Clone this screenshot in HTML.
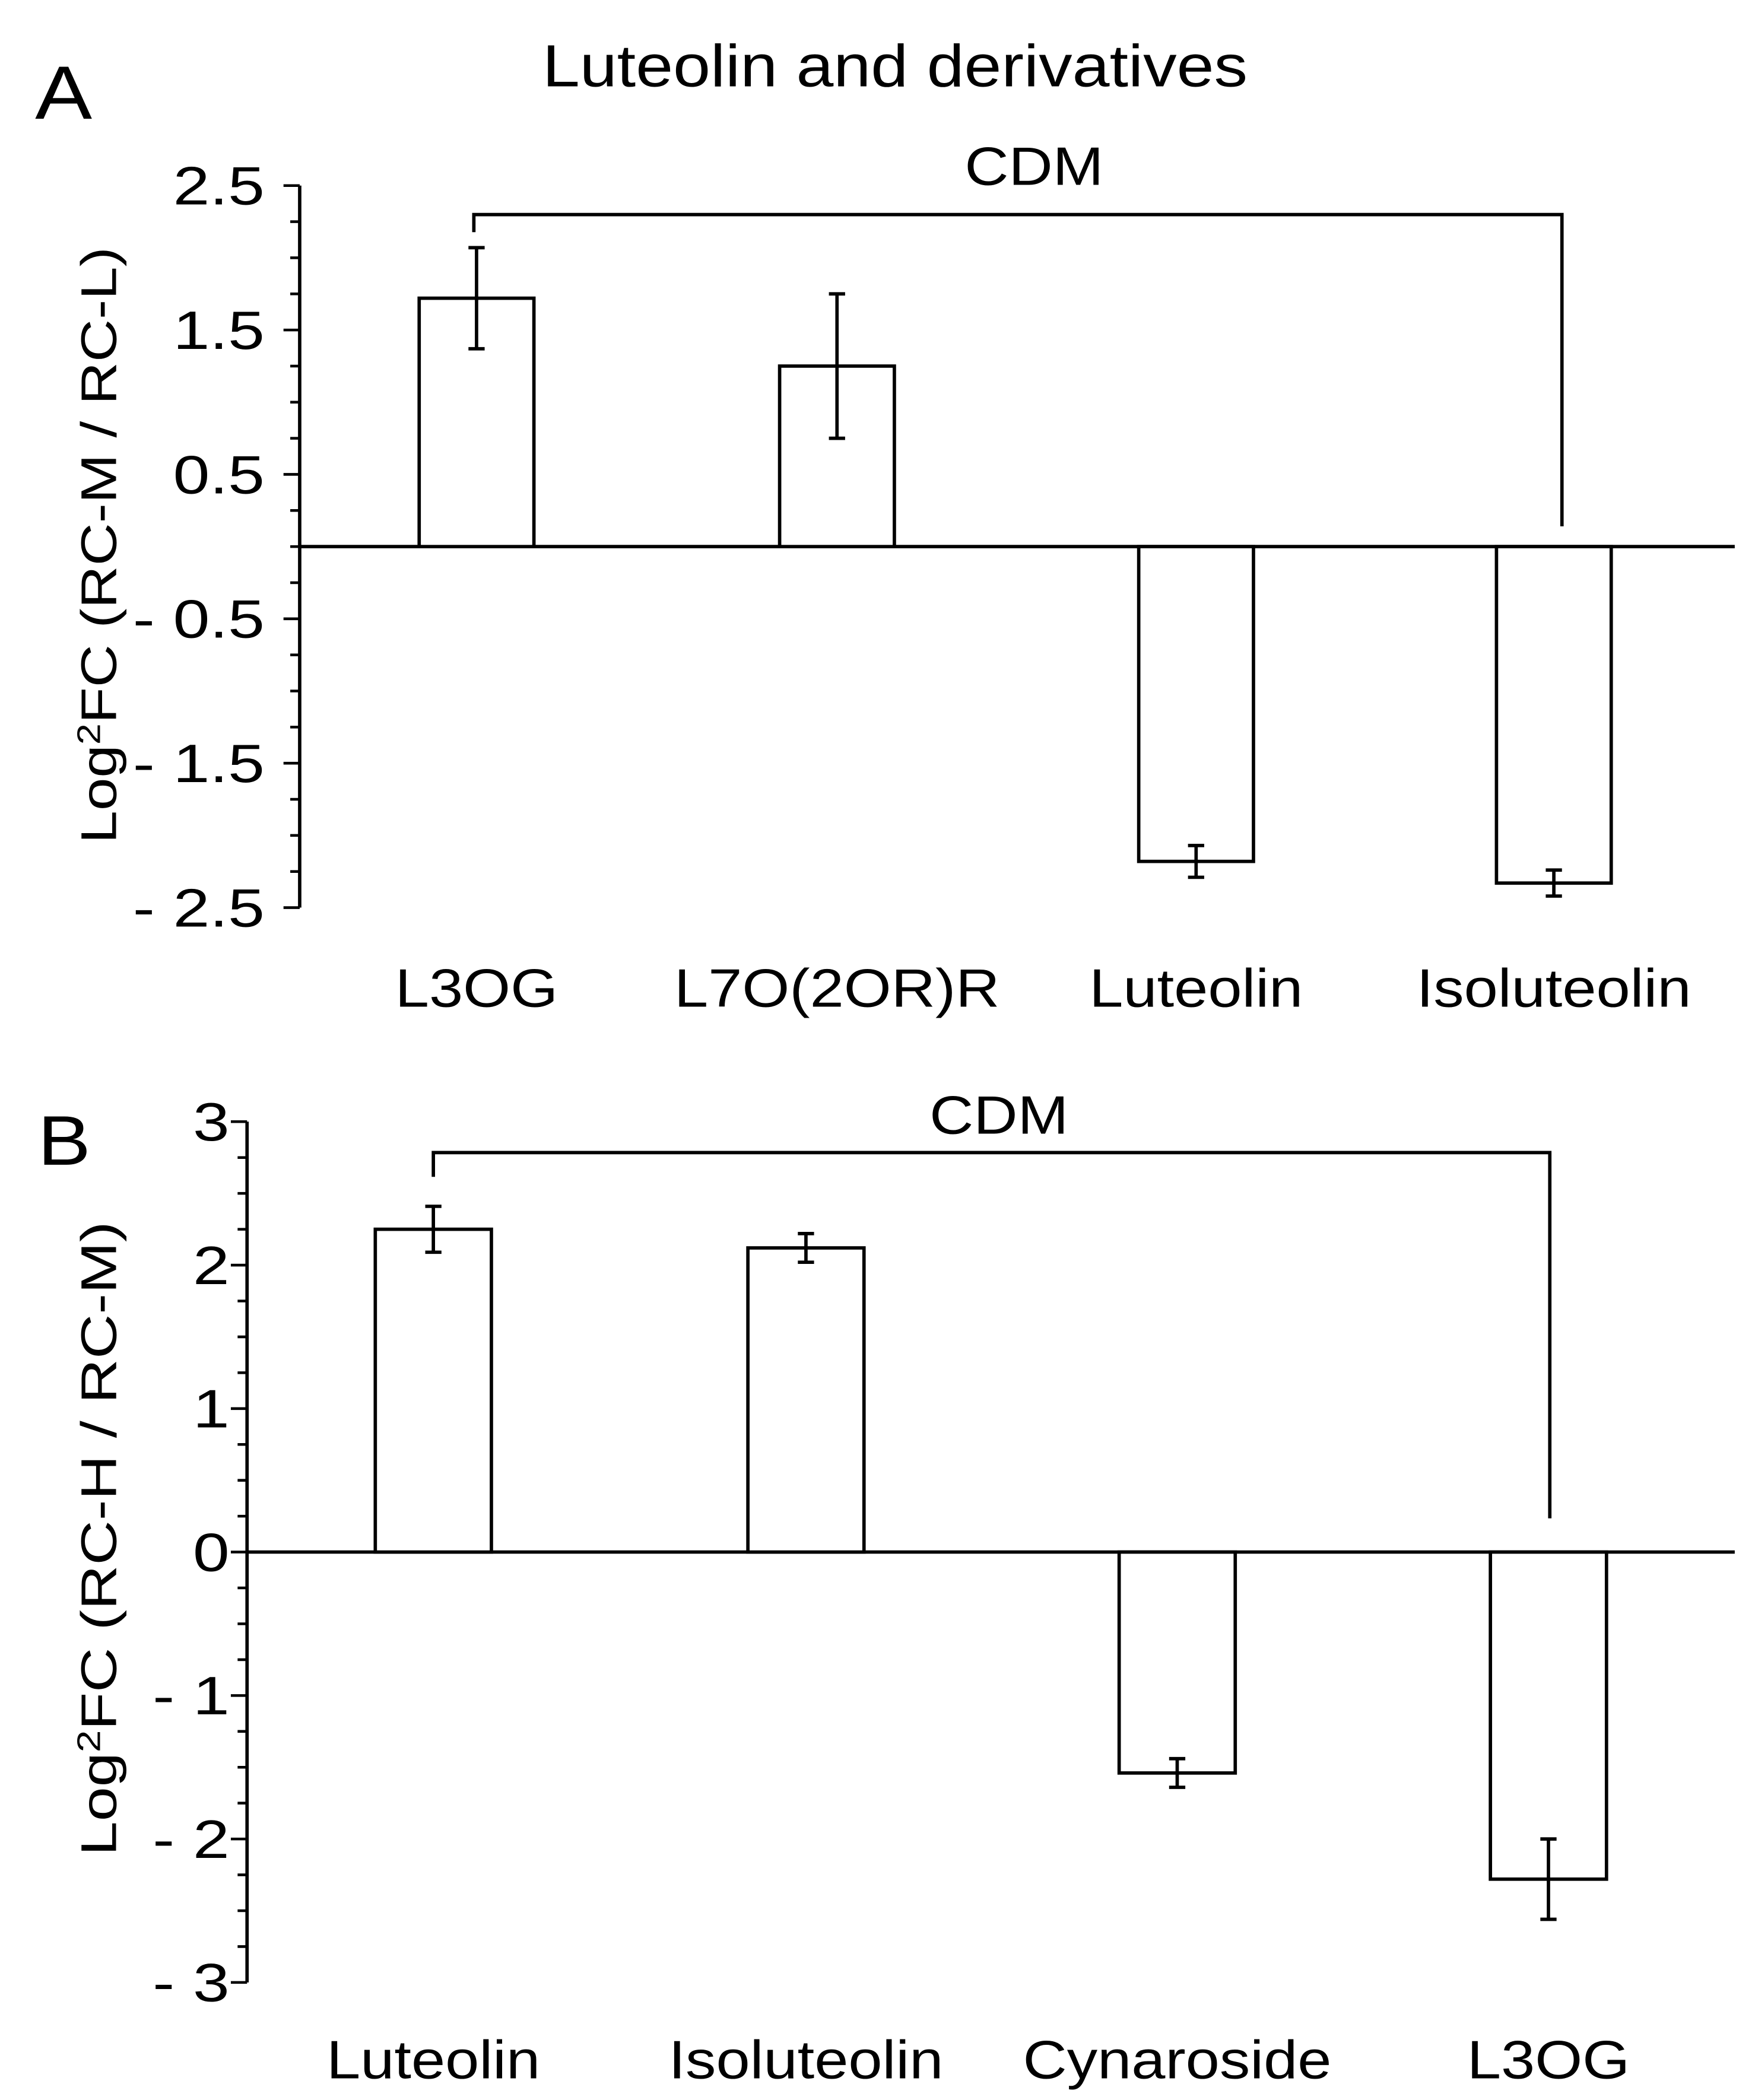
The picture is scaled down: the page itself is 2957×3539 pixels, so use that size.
<!DOCTYPE html>
<html><head><meta charset="utf-8"><style>
html,body{margin:0;padding:0;background:#fff}
svg{display:block}
text{font-family:"Liberation Sans",sans-serif;fill:#000}
</style></head><body>
<svg id="fig" width="2957" height="3539" viewBox="0 0 1300 1556" preserveAspectRatio="none" xmlns="http://www.w3.org/2000/svg">
<text class="st" x="26" y="88" font-size="56">A</text>
<text class="st" x="663" y="64" font-size="44" text-anchor="middle">Luteolin and derivatives</text>
<text class="st" x="28" y="863" font-size="52">B</text>
<g id="pa"></g>
<g id="pb"></g>
</svg>
<script>
const catsA = ["L3OG","L7O(2OR)R","Luteolin","Isoluteolin"];
const valsA = [1.72, 1.25, -2.18, -2.33];
const errsA = [0.35, 0.5, 0.11, 0.09];
const ticksA = [2.5, 1.5, 0.5, -0.5, -1.5, -2.5];
const tickLabelsA = ["2.5","1.5","0.5","- 0.5","- 1.5","- 2.5"];
const catsB = ["Luteolin","Isoluteolin","Cynaroside","L3OG"];
const valsB = [2.25, 2.12, -1.54, -2.28];
const errsB = [0.16, 0.1, 0.1, 0.28];
const ticksB = [3, 2, 1, 0, -1, -2, -3];
const tickLabelsB = ["3","2","1","0","- 1","- 2","- 3"];
const NS = "http://www.w3.org/2000/svg";
function mk(parent, tag, attrs, text){const e=document.createElementNS(NS,tag);for(const k in attrs)e.setAttribute(k,attrs[k]);if(text!==undefined)e.textContent=text;parent.appendChild(e);return e;}
function panel(g, cfg, cats, vals, errs, ticks, tickLabels){
  const y = v => cfg.y0 - v*cfg.ppu;
  const sw = 2.5;
  let e = mk(g,'line',{x1:cfg.ax,x2:cfg.ax,y1:y(cfg.max),y2:y(cfg.min),stroke:'#000','stroke-width':sw});
   
  for(let v=cfg.min; v<=cfg.max+1e-9; v+=0.25){
    const major = ticks.some(t=>Math.abs(t-v)<1e-6);
    e = mk(g,'line',{x1:cfg.ax-(major?12:7),x2:cfg.ax,y1:y(v),y2:y(v),stroke:'#000','stroke-width':2});
     
  }
  ticks.forEach((t,i)=>{
    e = mk(g,'text',{x:cfg.ax-cfg.tgap,y:y(t)+14,'font-size':40,'text-anchor':'end','class':'tk'},tickLabels[i]);
     
  });
  e = mk(g,'line',{x1:cfg.ax,x2:1285,y1:y(0),y2:y(0),stroke:'#000','stroke-width':sw});
   
  cats.forEach((c,i)=>{
    const cx = cfg.cx[i], w = cfg.bw;
    const top = Math.min(y(0),y(vals[i])), h = Math.abs(y(vals[i])-y(0));
    e = mk(g,'rect',{x:cx-w/2,y:top,width:w,height:h,fill:'#fff',stroke:'#000','stroke-width':sw});
     
    const y1=y(vals[i]+errs[i]), y2=y(vals[i]-errs[i]);
    e = mk(g,'path',{d:`M${cx},${y1}V${y2}M${cx-6},${y1}H${cx+6}M${cx-6},${y2}H${cx+6}`,stroke:'#000','stroke-width':2.5,fill:'none'});
     
    e = mk(g,'text',{x:cx,y:cfg.labY,'font-size':40,'text-anchor':'middle','class':'st'},c);
     
  });
  const b = cfg.br;
  e = mk(g,'path',{d:`M${b.x1},${b.l}V${b.y}H${b.x2}V${b.r}`,stroke:'#000','stroke-width':2.5,fill:'none'});
   
  e = mk(g,'text',{x:b.tx,y:b.ty,'font-size':40,'text-anchor':'middle','class':'st'},'CDM');
   
  e = mk(g,'text',{x:0,y:0,'font-size':37,'text-anchor':'middle',transform:`translate(${cfg.ylx},${cfg.yly}) rotate(-90)`,textLength:cfg.ylen,lengthAdjust:'spacingAndGlyphs'});
   
  mk(e,'tspan',{},'Log');
  mk(e,'tspan',{'font-size':24,dy:-12},'2');
  mk(e,'tspan',{dy:12},cfg.ytitle);
}
panel(document.getElementById('pa'),{ax:222,y0:405,ppu:107,min:-2.5,max:2.5,cx:[353,620,886,1151],bw:85,labY:746,tgap:26,
  br:{x1:351,x2:1157,y:159,l:172,r:390,tx:766,ty:137},ylx:86,yly:404,ylen:442,ytitle:'FC (RC-M / RC-L)'},catsA,valsA,errsA,ticksA,tickLabelsA);
panel(document.getElementById('pb'),{ax:183,y0:1150,ppu:106.3,min:-3,max:3,cx:[321,597,872,1147],bw:86,labY:1540,tgap:13,
  br:{x1:321,x2:1148,y:854,l:872,r:1125,tx:740,ty:840},ylx:86,yly:1140,ylen:470,ytitle:'FC (RC-H / RC-M)'},catsB,valsB,errsB,ticksB,tickLabelsB);
document.querySelectorAll('text.st, text.tk').forEach(t=>{
  const L=t.getComputedTextLength();
  const f = t.classList.contains('tk') ? 1.22 : 1.13;
  t.setAttribute('textLength',(L*f).toFixed(1));
  t.setAttribute('lengthAdjust','spacingAndGlyphs');
});
</script>
</body></html>
